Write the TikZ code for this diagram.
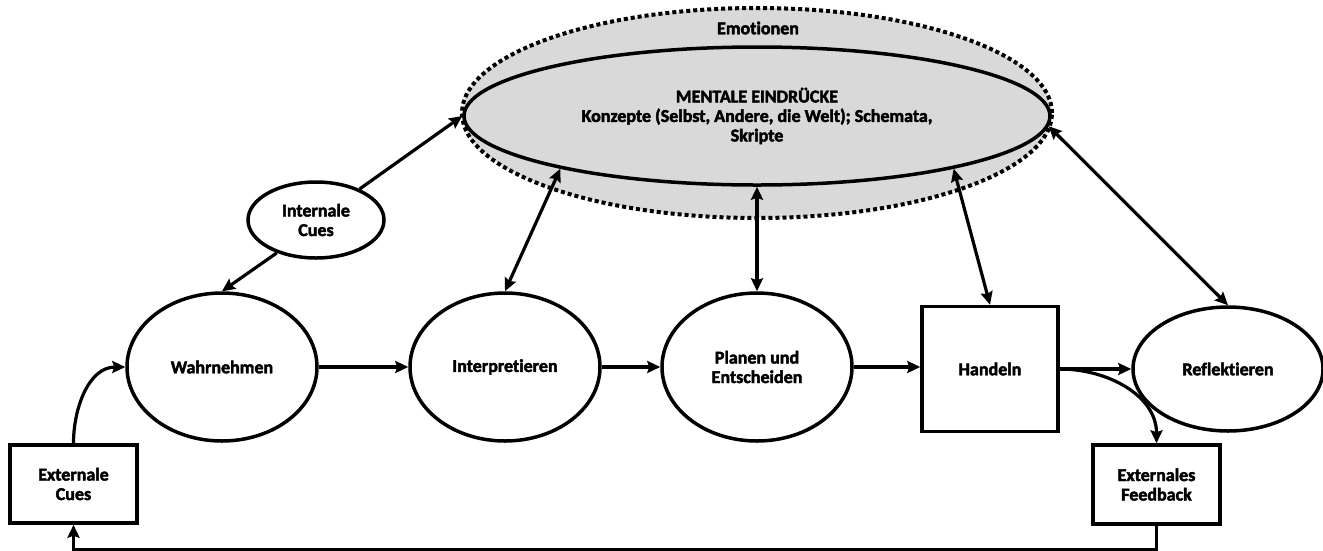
\documentclass[tikz,border=0pt]{standalone}
\usepackage{fontspec}
\setmainfont{Carlito}[Ligatures=NoCommon]
\newfontfamily\heavy{Carlito Bold}[Ligatures=NoCommon, FakeBold=2.5]
\usetikzlibrary{shapes.geometric,arrows.meta}
\definecolor{cloud}{HTML}{D9D9D9}
\begin{document}
\begin{tikzpicture}[x=1pt,y=-1pt,
  every node/.style={font=\fontsize{18}{19.5}\selectfont\heavy, align=center},
  oval/.style={ellipse, draw, line width=3.5pt, inner sep=0pt},
  boxnode/.style={rectangle, draw, line width=3.5pt, inner sep=0pt},
  tip/.tip={Stealth[length=13pt,width=12pt,inset=2pt]},
  conn/.style={line width=3.2pt, -tip},
  biconn/.style={line width=3.2pt, tip-tip}]
\useasboundingbox (0,0) rectangle (1323,550);
% cloud
\node[oval, fill=cloud, line width=4pt, dash pattern=on 4pt off 3pt, minimum width=590pt, minimum height=210pt] (em) at (757,113) {};
\node (emtxt) at (758,28) {Emotionen};
\node[oval, fill=cloud, minimum width=586pt, minimum height=138pt] (me) at (757,116)
  {MENTALE EINDRÜCKE\\Konzepte (Selbst, Andere, die Welt); Schemata,\\Skripte};
% nodes
\node[oval, minimum width=136pt, minimum height=76pt] (ic) at (316,220) {Internale\\Cues};
\node[oval, minimum width=190pt, minimum height=148pt] (wa) at (222,367) {Wahrnehmen};
\node[oval, minimum width=190pt, minimum height=148pt] (ip) at (505,367) {Interpretieren};
\node[oval, minimum width=190pt, minimum height=148pt] (pl) at (757,367) {Planen und\\Entscheiden};
\node[boxnode, minimum width=136pt, minimum height=125pt] (hd) at (990,369) {Handeln};
\node[oval, minimum width=190pt, minimum height=124pt] (rf) at (1228,369) {Reflektieren};
\node[boxnode, minimum width=127pt, minimum height=78pt] (ec) at (73.5,484) {Externale\\Cues};
\node[boxnode, minimum width=127pt, minimum height=79pt] (fb) at (1156.5,484.5) {Externales\\Feedback};
% connectors
\draw[conn] (ic) -- (me.west);
\draw[conn] (ic.220) -- (wa.north);
\draw[biconn] (me.195) -- (ip.north);
\draw[biconn] (me.south) -- (pl.north);
\draw[biconn] (me.345) -- (hd.north);
\draw[biconn] (me.358) -- (rf.north);
\draw[conn] (wa.east) -- (ip.west);
\draw[conn] (ip.east) -- (pl.west);
\draw[conn] (pl.east) -- (pl.east -| hd.west);
\draw[conn] (hd.east) -- (rf.west);
\draw[conn] (hd.east) to[out=0,in=90] (fb.north);
\draw[conn] (ec.north) to[out=90,in=180] (wa.west);
\draw[conn] (fb.south) -- ++(0,24) -| (ec.south);
\end{tikzpicture}
\end{document}
